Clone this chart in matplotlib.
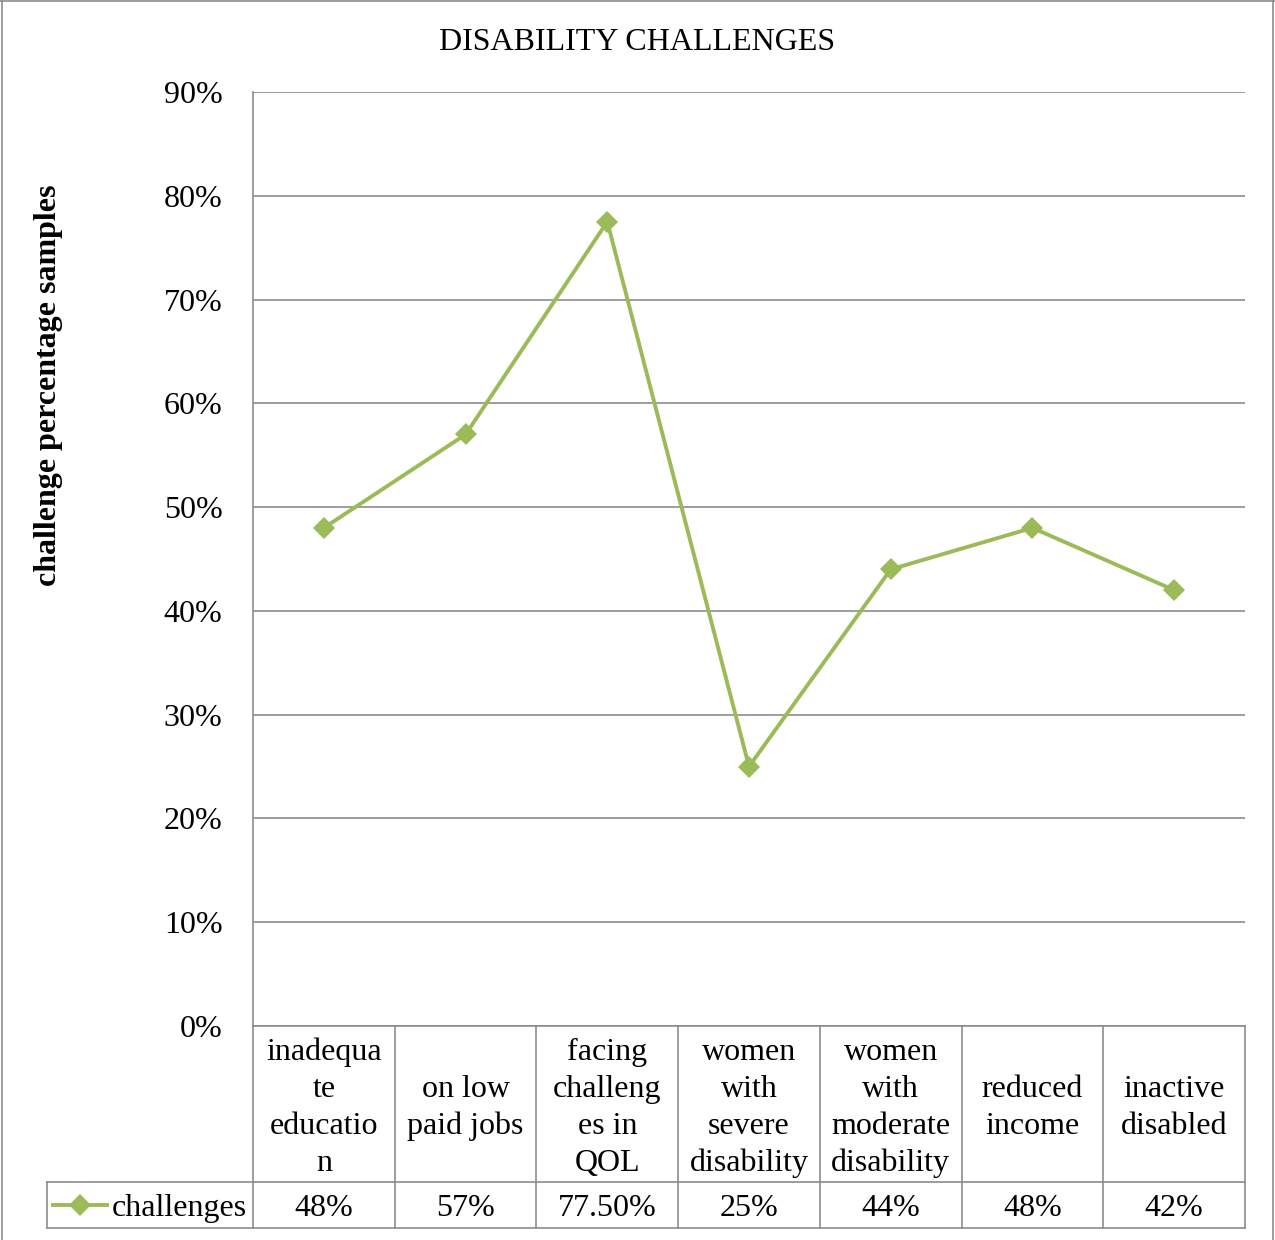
import matplotlib
matplotlib.use('Agg')
import matplotlib.pyplot as plt
from matplotlib.lines import Line2D

# data
categories = [
    'inadequa\nte\neducatio\nn',
    'on low\npaid jobs',
    'facing\nchalleng\nes in\nQOL',
    'women\nwith\nsevere\ndisability',
    'women\nwith\nmoderate\ndisability',
    'reduced\nincome',
    'inactive\ndisabled',
]
values = [48, 57, 77.5, 25, 44, 48, 42]
value_labels = ['48%', '57%', '77.50%', '25%', '44%', '48%', '42%']
yticks = [0, 10, 20, 30, 40, 50, 60, 70, 80, 90]
series_name = 'challenges'

GREEN = '#9BBB59'
GRID = '#8C8C8C'
FONT = 'Liberation Serif'
FS = 23

plt.rcParams['font.family'] = FONT

fig = plt.figure(figsize=(12.75, 12.4), dpi=100)

# outer chart border
fig.add_artist(Line2D([2 / 1275, 2 / 1275], [0, 1], color=GRID, lw=1.2))
fig.add_artist(Line2D([1273 / 1275, 1273 / 1275], [0, 1], color=GRID, lw=1.2))
fig.add_artist(Line2D([0, 1], [1 - 1 / 1240, 1 - 1 / 1240], color=GRID, lw=1.2))

ax = fig.add_axes([253 / 1275, 1 - 1026 / 1240, 992 / 1275, 934 / 1240])

x = list(range(len(categories)))
ax.plot(x, values, color=GREEN, lw=2.8, marker='D', ms=11, mew=0, zorder=3)

ax.set_xlim(-0.5, len(categories) - 0.5)
ax.set_ylim(0, 90)
ax.set_yticks(yticks)
ax.set_yticklabels([f'{t}%' for t in yticks], fontsize=FS)
ax.set_xticks([])
ax.tick_params(axis='y', length=0, pad=22)
ax.yaxis.grid(True, color=GRID, lw=1.2)
ax.set_axisbelow(True)
for side in ['top', 'right', 'bottom']:
    ax.spines[side].set_visible(False)
ax.spines['left'].set_color(GRID)
ax.spines['left'].set_linewidth(1.2)

ax.set_ylabel('challenge percentage samples', fontsize=FS, fontweight='bold')
ax.yaxis.set_label_coords(-0.1915, 0.686)
fig.text(637 / 1275, 1 - 42 / 1240, 'DISABILITY CHALLENGES', ha='center', va='center', fontsize=FS)

# data table under the plot (x in data units, y in axes fraction)
trans = ax.get_xaxis_transform()
hdr_bot = -156 / 934
row_bot = -202 / 934
unit = 992 / len(categories)
leg_left = -0.5 - 206 / unit
kw = dict(color=GRID, lw=1.2, transform=trans, clip_on=False)

ax.plot([-0.5, len(categories) - 0.5], [0, 0], **kw)
ax.plot([leg_left, len(categories) - 0.5], [hdr_bot, hdr_bot], **kw)
ax.plot([leg_left, len(categories) - 0.5], [row_bot, row_bot], **kw)
ax.plot([leg_left, leg_left], [hdr_bot, row_bot], **kw)
for b in range(len(categories) + 1):
    ax.plot([b - 0.5, b - 0.5], [0, row_bot], **kw)

row_mid = (hdr_bot + row_bot) / 2
for i, (cat, lab) in enumerate(zip(categories, value_labels)):
    ax.text(i, hdr_bot / 2 - 4 / 934, cat, transform=trans, ha='center', va='center',
            fontsize=FS, linespacing=1.36)
    ax.text(i, row_mid, lab, transform=trans, ha='center', va='center_baseline', fontsize=FS)

# legend key inside the table
k0 = leg_left + 6 / unit
k1 = leg_left + 60 / unit
ax.plot([k0, k1], [row_mid, row_mid], color=GREEN, lw=2.8, transform=trans, clip_on=False)
ax.plot([(k0 + k1) / 2], [row_mid], color=GREEN, marker='D', ms=11, mew=0,
        transform=trans, clip_on=False)
ax.text(leg_left + 65 / unit, row_mid, series_name, transform=trans, ha='left',
        va='center_baseline', fontsize=FS)

fig.savefig('out.png', dpi=100)
